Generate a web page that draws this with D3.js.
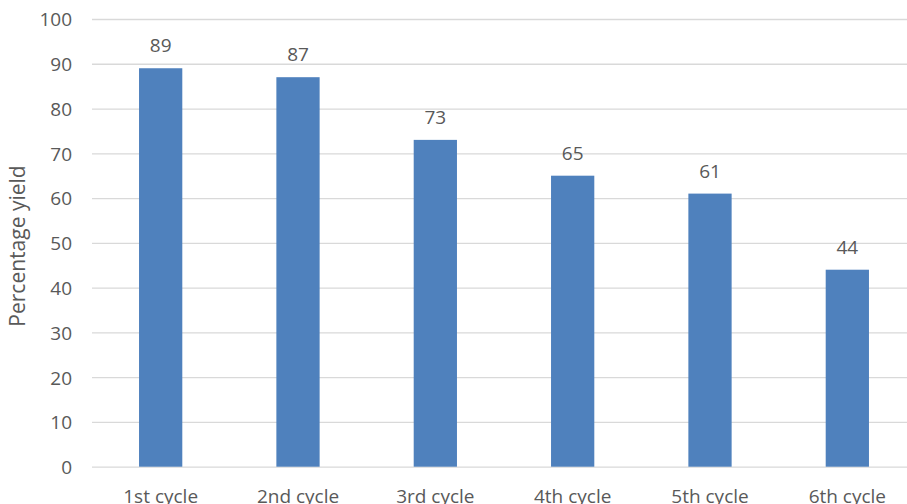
<!DOCTYPE html>
<html>
<head>
<meta charset="utf-8">
<script src="https://cdn.jsdelivr.net/npm/d3@7"></script>
<style>
  html, body { margin: 0; padding: 0; background: #fff; overflow: hidden; }
  svg { display: block; }
  text { font-family: "Open Sans", "Noto Sans", sans-serif; fill: #595959; }
</style>
</head>
<body>
<script>
const categories = ["1st cycle", "2nd cycle", "3rd cycle", "4th cycle", "5th cycle", "6th cycle"];
const yields = [89, 87, 73, 65, 61, 44];
const yTicks = [0, 10, 20, 30, 40, 50, 60, 70, 80, 90, 100];
const yTitle = "Percentage yield";

const W = 907, H = 504;
const svg = d3.select("body").append("svg").attr("width", W).attr("height", H);

const x = d3.scaleBand().domain(categories).range([92, 916]).paddingInner(0.685).paddingOuter(0.3425);
const y = d3.scaleLinear().domain([0, 100]).range([466.7, 19]);

// gridlines
const grid = svg.append("g")
  .attr("transform", "translate(92,0)")
  .call(d3.axisLeft(y).tickValues(yTicks).tickSize(-(916 - 92)).tickFormat(""));
grid.select(".domain").remove();
grid.selectAll(".tick line").attr("stroke", "#d9d9d9").attr("stroke-width", 1.3);

// y tick labels
const yAxis = svg.append("g")
  .attr("transform", "translate(72,0)")
  .call(d3.axisLeft(y).tickValues(yTicks).tickSize(0).tickPadding(0));
yAxis.select(".domain").remove();
yAxis.selectAll("text").attr("font-size", "19px").attr("fill", "#595959")
  .attr("dy", "0.36em").style("font-family", "'Open Sans', sans-serif");

// bars
svg.append("g").selectAll("rect").data(yields).join("rect")
  .attr("x", (d, i) => x(categories[i]))
  .attr("width", x.bandwidth())
  .attr("y", d => y(d))
  .attr("height", d => y(0) - y(d))
  .attr("fill", "#4f81bd");

// data labels
svg.append("g").selectAll("text").data(yields).join("text")
  .attr("x", (d, i) => x(categories[i]) + x.bandwidth() / 2)
  .attr("y", d => y(d) - 16)
  .attr("text-anchor", "middle")
  .attr("font-size", "19px")
  .text(d => d);

// x axis labels
const xAxis = svg.append("g")
  .attr("transform", "translate(0,466.7)")
  .call(d3.axisBottom(x).tickSize(0).tickPadding(0));
xAxis.select(".domain").remove();
xAxis.selectAll("text").attr("font-size", "19px").attr("fill", "#595959")
  .attr("dy", null).attr("y", 36).style("font-family", "'Open Sans', sans-serif");

// y title
svg.append("text")
  .attr("transform", "translate(25,246) rotate(-90)")
  .attr("text-anchor", "middle")
  .attr("font-size", "21px")
  .text(yTitle);
</script>
</body>
</html>
